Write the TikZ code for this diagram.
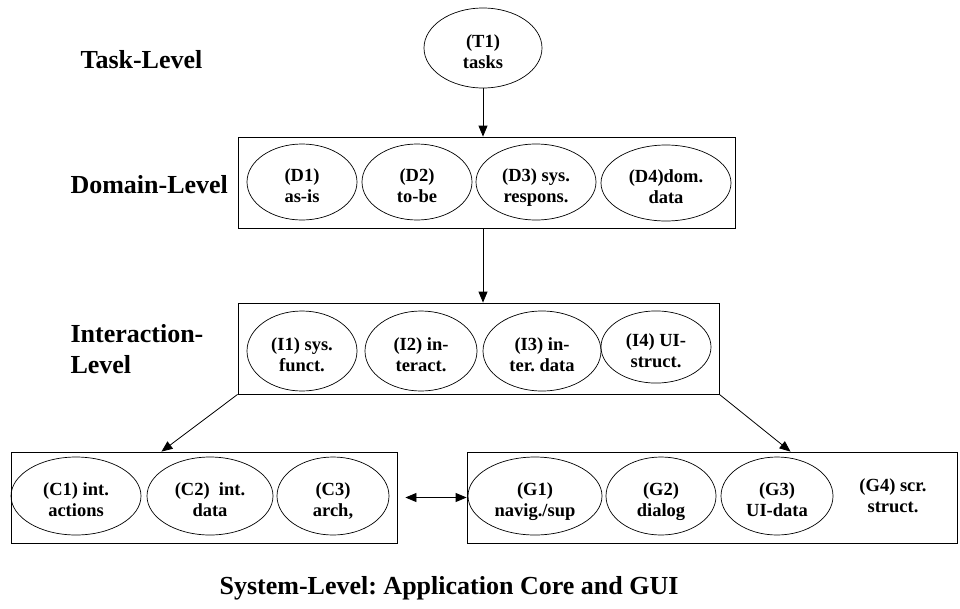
\documentclass[tikz,border=0pt]{standalone}
\usepackage{fontspec}
\setmainfont{Liberation Serif}
\usetikzlibrary{shapes.geometric,arrows.meta,calc}

\tikzset{
  levelbox/.style={draw, line width=0.8pt, inner sep=0pt, minimum height=91pt},
  oval/.style={draw, ellipse, line width=0.7pt, inner sep=0pt, align=center,
    font=\fontsize{18.5}{21}\selectfont\bfseries,
    execute at begin node=\rule{0pt}{46pt},
    execute at end node=\rule[-5pt]{0pt}{5pt}},
  levelname/.style={anchor=west, align=left, font=\fontsize{26}{31}\selectfont\bfseries},
  tip/.tip={Triangle[length=11pt,width=9pt]},
  flow/.style={line width=0.8pt, -tip}
}

\begin{document}
\frenchspacing
\begin{tikzpicture}[x=1pt,y=-1pt]
    \useasboundingbox (0,0) rectangle (960,608);
    % level names
    \node[levelname] (tasklbl) at (77,60) {Task-Level};
    \node[levelname] (domlbl) at (67,185) {Domain-Level};
    \node[levelname] (interlbl) at (67,349) {Interaction-\\Level};
    \node[font=\fontsize{26}{31}\selectfont\bfseries] (syslbl) at (449,588)
      {System-Level: Application Core and GUI};
    % boxes
    \node[levelbox, minimum width=497pt] (dom) at (486.5,182.5) {};
    \node[levelbox, minimum width=481pt] (inter) at (478.5,348.5) {};
    \node[levelbox, minimum width=386pt] (core) at (204,497.5) {};
    \node[levelbox, minimum width=490pt] (gui) at (712,497.5) {};
    % task level
    \node[oval, minimum width=118pt, minimum height=80pt] (T1) at (483,48) {(T1)\\tasks};
    % domain level
    \node[oval, minimum width=110pt, minimum height=76pt] (D1) at (302,182) {(D1)\\as-is};
    \node[oval, minimum width=110pt, minimum height=76pt] (D2) at (417,182) {(D2)\\to-be};
    \node[oval, minimum width=120pt, minimum height=76pt] (D3) at (536,182) {(D3) sys.\\respons.};
    \node[oval, minimum width=130pt, minimum height=76pt] (D4) at (666,183) {(D4)dom.\\data};
    % interaction level
    \node[oval, minimum width=110pt, minimum height=80pt] (I1) at (302,351) {(I1) sys.\\funct.};
    \node[oval, minimum width=112pt, minimum height=80pt] (I2) at (421,351) {(I2) in-\\teract.};
    \node[oval, minimum width=118pt, minimum height=80pt] (I3) at (542,351) {(I3) in-\\ter. data};
    \node[oval, minimum width=110pt, minimum height=72pt] (I4) at (656,347) {(I4) UI-\\struct.};
    % application core
    \node[oval, minimum width=130pt, minimum height=78pt] (C1) at (76,496) {(C1) int.\\actions};
    \node[oval, minimum width=126pt, minimum height=78pt] (C2) at (210,496) {(C2)\ \ int.\\data};
    \node[oval, minimum width=112pt, minimum height=78pt] (C3) at (333,496) {(C3)\\arch,};
    % gui
    \node[oval, minimum width=134pt, minimum height=78pt] (G1) at (535,496) {(G1)\\navig./sup};
    \node[oval, minimum width=110pt, minimum height=78pt] (G2) at (661,496) {(G2)\\dialog};
    \node[oval, minimum width=112pt, minimum height=78pt] (G3) at (777,496) {(G3)\\UI-data};
    \node[oval, draw=none] (G4) at (893,492) {(G4) scr.\\struct.};
    % connectors
    \draw[flow] (T1.south) -- (T1.south |- dom.north);
    \draw[flow] (dom.south -| T1.south) -- (inter.north -| T1.south);
    \draw[flow] (inter.south west) -- ($(core.north west)!0.39!(core.north east)$);
    \draw[flow] (inter.south east) -- ($(gui.north west)!0.66!(gui.north east)$);
    \draw[flow, tip-tip, shorten <=8pt] (core.east) -- (gui.west);
  \end{tikzpicture}
\end{document}
